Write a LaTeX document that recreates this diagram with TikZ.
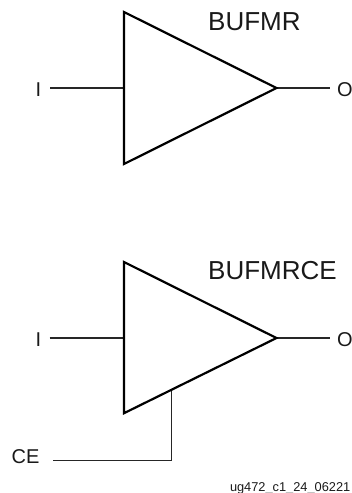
\documentclass[tikz,border=0pt]{standalone}
\usepackage{fontspec}
\setmainfont{Liberation Sans}
\begin{document}
\begin{tikzpicture}[x=1pt,y=-1pt,
 amp/.style={draw=black,line width=2.2pt,line join=miter,fill=white},
 wire/.style={draw=black!85,line width=1.1pt},
 lbl/.style={inner sep=0pt,anchor=base west,font=\fontsize{20}{24}\selectfont,text=black!90},
 ttl/.style={inner sep=0pt,anchor=base west,font=\fontsize{26}{30}\selectfont,text=black!90},
 small/.style={inner sep=0pt,anchor=base east,font=\fontsize{12.8}{15}\selectfont,text=black!90}]
\useasboundingbox (0,0) rectangle (352,493);
\coordinate (a1) at (124,12); \coordinate (b1) at (124,164); \coordinate (t1) at (276.5,88);
\coordinate (a2) at (124,262); \coordinate (b2) at (124,413.2); \coordinate (t2) at (276.5,338);
\node[lbl] (i1) at (35.5,96) {I};
\node[lbl] (o1) at (337,96) {O};
\node[ttl] (n1) at (208,30.5) {BUFMR};
\coordinate (p1) at (124,88);
\coordinate (w1) at (50,88); \coordinate (x1) at (330,88);
\draw[wire] (w1) -- (p1);
\draw[wire] (t1) -- (x1);
\draw[amp] (a1) -- (t1) -- (b1) -- cycle;
\node[lbl] (i2) at (35.5,346) {I};
\node[lbl] (o2) at (337,346) {O};
\node[ttl] (n2) at (208,279.5) {BUFMRCE};
\node[lbl] (ce) at (11.5,463) {CE};
\node[small] (ref) at (350.5,491) {ug472\_c1\_24\_06221};
\coordinate (p2) at (124,338);
\coordinate (w2) at (49.5,338); \coordinate (x2) at (329.5,338);
\coordinate (c0) at (171.3,390); \coordinate (c1) at (171.3,460.5); \coordinate (c2) at (53,460.5);
\draw[wire] (w2) -- (p2);
\draw[wire] (t2) -- (x2);
\draw[wire] (c0) -- (c1) -- (c2);
\draw[amp] (a2) -- (t2) -- (b2) -- cycle;
\end{tikzpicture}
\end{document}
